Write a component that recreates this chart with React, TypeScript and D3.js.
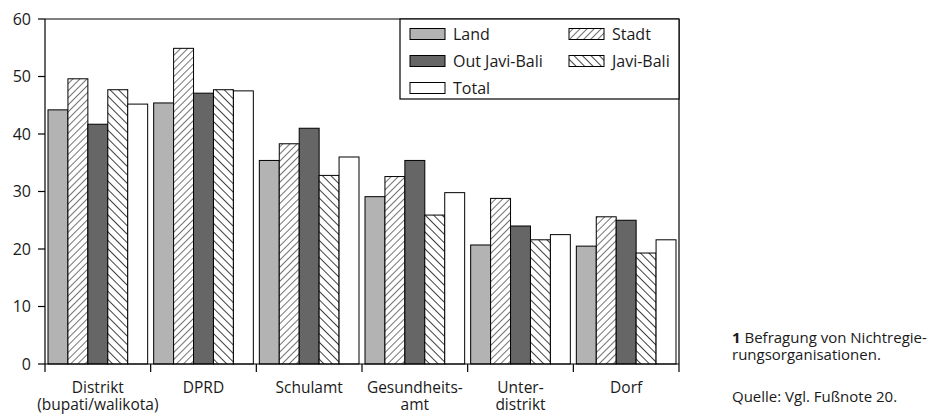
import React from "react";
import * as d3 from "d3";

const categories = [
  ["Distrikt", "(bupati/walikota)"],
  ["DPRD"],
  ["Schulamt"],
  ["Gesundheits-", "amt"],
  ["Unter-", "distrikt"],
  ["Dorf"],
];
const seriesNames = ["Land", "Stadt", "Out Javi-Bali", "Javi-Bali", "Total"];
const land = [44.2, 45.4, 35.4, 29.1, 20.7, 20.5];
const stadt = [49.6, 54.9, 38.3, 32.6, 28.8, 25.6];
const outJaviBali = [41.7, 47.1, 41.0, 35.4, 24.0, 25.0];
const javiBali = [47.7, 47.7, 32.8, 25.9, 21.6, 19.3];
const total = [45.2, 47.5, 36.0, 29.8, 22.5, 21.6];
const yTicks = [0, 10, 20, 30, 40, 50, 60];

const seriesValues = [land, stadt, outJaviBali, javiBali, total];
const fills = ["#b3b3b3", "url(#hatchStadt)", "#666666", "url(#hatchJavi)", "#ffffff"];

const FONT = "'Open Sans', 'Noto Sans', sans-serif";
const TXT = "#1a1a1a";

export default function App() {
  const W = 936, H = 417;
  const left = 45, right = 679, top = 19, bottom = 364;
  const x = d3.scaleBand<number>().domain(d3.range(categories.length)).range([left, right]).padding(0);
  const bw = x.bandwidth();
  const xs = d3.scaleBand<number>().domain(d3.range(seriesNames.length)).range([3, bw - 3]).padding(0);
  const y = d3.scaleLinear().domain([0, 60]).range([bottom, top]);

  const legendCols = [410, 569];
  const legendRows = [34, 61, 88];
  const legendItems = [
    { s: 0, c: 0, r: 0 },
    { s: 1, c: 1, r: 0 },
    { s: 2, c: 0, r: 1 },
    { s: 3, c: 1, r: 1 },
    { s: 4, c: 0, r: 2 },
  ];

  return (
    <svg width={W} height={H} style={{ position: "absolute", left: 0, top: 0, background: "#fff" }} fontFamily={FONT}>
      <defs>
        <pattern id="hatchStadt" patternUnits="userSpaceOnUse" width="5" height="5" patternTransform="rotate(45)">
          <rect width="5" height="5" fill="#fff" />
          <line x1="0" y1="0" x2="0" y2="5" stroke="#000" strokeWidth="1.1" />
        </pattern>
        <pattern id="hatchJavi" patternUnits="userSpaceOnUse" width="6" height="6" patternTransform="rotate(-45)">
          <rect width="6" height="6" fill="#fff" />
          <line x1="0" y1="0" x2="0" y2="6" stroke="#000" strokeWidth="1.5" />
        </pattern>
      </defs>

      {categories.map((_, ci) => (
        <g key={ci} transform={`translate(${x(ci)},0)`}>
          {seriesValues.map((vals, si) => (
            <rect
              key={si}
              x={xs(si)}
              y={y(vals[ci])}
              width={xs.bandwidth()}
              height={y(0) - y(vals[ci])}
              fill={fills[si]}
              stroke="#000"
              strokeWidth={1}
            />
          ))}
        </g>
      ))}

      <line x1={left} x2={right} y1={top} y2={top} stroke="#000" strokeWidth={1.2} />
      <line x1={right} x2={right} y1={top} y2={bottom} stroke="#000" strokeWidth={1.2} />
      <line x1={left} x2={left} y1={top} y2={bottom} stroke="#000" strokeWidth={1.2} />
      <line x1={left} x2={right} y1={bottom} y2={bottom} stroke="#000" strokeWidth={1.2} />

      {yTicks.map((t) => (
        <g key={t}>
          <line x1={left - 7} x2={left} y1={y(t)} y2={y(t)} stroke="#000" strokeWidth={1.2} />
          <text x={31} y={y(t)} dy="0.36em" textAnchor="end" fontSize={16} fill={TXT}>
            {t}
          </text>
        </g>
      ))}

      {d3.range(categories.length + 1).map((i) => {
        const xx = left + i * bw;
        return <line key={i} x1={xx} x2={xx} y1={bottom} y2={bottom + 8} stroke="#000" strokeWidth={1.2} />;
      })}
      {categories.map((lines, ci) => (
        <text key={ci} x={(x(ci) as number) + bw / 2} y={393} textAnchor="middle" fontSize={15.5} fill={TXT}>
          {lines.map((l, li) => (
            <tspan key={li} x={(x(ci) as number) + bw / 2} y={393 + li * 17}>
              {l}
            </tspan>
          ))}
        </text>
      ))}

      <rect x={400} y={top} width={right - 400} height={80} fill="#fff" stroke="#000" strokeWidth={1.2} />
      {legendItems.map((it) => (
        <g key={it.s}>
          <rect
            x={legendCols[it.c]}
            y={legendRows[it.r] - 5.5}
            width={35}
            height={11}
            fill={fills[it.s]}
            stroke="#000"
            strokeWidth={1}
          />
          <text x={legendCols[it.c] + 43} y={legendRows[it.r]} dy="0.36em" fontSize={16} fill={TXT}>
            {seriesNames[it.s]}
          </text>
        </g>
      ))}

      <text x={732} y={343} fontSize={15} fill={TXT}>
        <tspan fontWeight="bold">1</tspan> Befragung von Nichtregie-
      </text>
      <text x={732} y={360} fontSize={15} fill={TXT}>
        rungsorganisationen.
      </text>
      <text x={732} y={402} fontSize={15} fill={TXT}>
        Quelle: Vgl. Fußnote 20.
      </text>
    </svg>
  );
}
